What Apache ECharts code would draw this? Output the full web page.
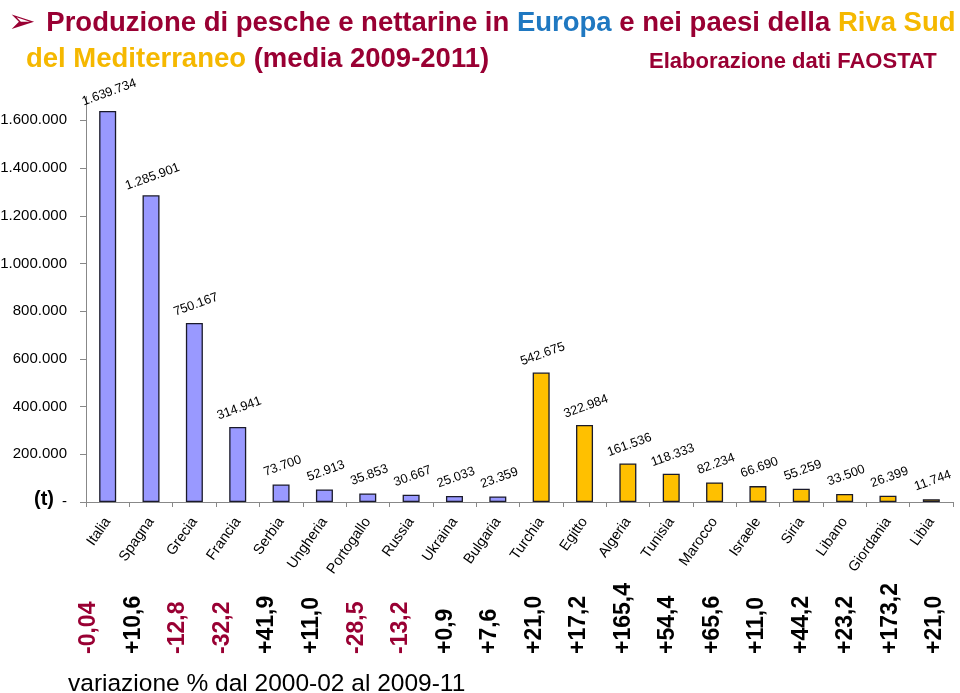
<!DOCTYPE html>
<html>
<head>
<meta charset="utf-8">
<script src="https://cdn.jsdelivr.net/npm/echarts@6/dist/echarts.min.js"></script>
<style>
html,body{margin:0;padding:0;background:#fff;}
#chart{width:960px;height:693px;}
</style>
</head>
<body>
<div id="chart"></div>
<script>
const categories = ['Italia','Spagna','Grecia','Francia','Serbia','Ungheria','Portogallo','Russia','Ukraina','Bulgaria','Turchia','Egitto','Algeria','Tunisia','Marocco','Israele','Siria','Libano','Giordania','Libia'];
const production = [1639734,1285901,750167,314941,73700,52913,35853,30667,25033,23359,542675,322984,161536,118333,82234,66690,55259,33500,26399,11744];
const area = ['EU','EU','EU','EU','EU','EU','EU','EU','EU','EU','SUD','SUD','SUD','SUD','SUD','SUD','SUD','SUD','SUD','SUD'];
const variation = ['-0,04','+10,6','-12,8','-32,2','+41,9','+11,0','-28,5','-13,2','+0,9','+7,6','+21,0','+17,2','+165,4','+54,4','+65,6','+11,0','+44,2','+23,2','+173,2','+21,0'];
const yTicks = [0,200000,400000,600000,800000,1000000,1200000,1400000,1600000];

const FONT = '"Liberation Sans", Arial, sans-serif';
const RED = '#990033';
const areaColor = {EU:'#9999ff', SUD:'#ffc000'};

function fmt(n){ return String(n).replace(/\B(?=(\d{3})+(?!\d))/g,'.'); }

const chart = echarts.init(document.getElementById('chart'));
chart.setOption({
  backgroundColor:'#fff',
  animation:false,
  title:[
    {left:3, top:2, text:'{a|➢}{r| Produzione di pesche e nettarine in }{b|Europa}{r| e nei paesi della }{g|Riva Sud}',
     textStyle:{rich:{
       a:{fontFamily:'DejaVu Sans', fontSize:33, color:RED, padding:[0,3,0,0]},
       r:{fontFamily:FONT, fontSize:27.5, fontWeight:'bold', color:RED},
       b:{fontFamily:FONT, fontSize:27.5, fontWeight:'bold', color:'#1f78c1'},
       g:{fontFamily:FONT, fontSize:27.5, fontWeight:'bold', color:'#f5b800'}}}},
    {left:21, top:40, text:'{g|del Mediterraneo }{r|(media 2009-2011)}',
     textStyle:{rich:{
       r:{fontFamily:FONT, fontSize:27.5, fontWeight:'bold', color:RED},
       g:{fontFamily:FONT, fontSize:27.5, fontWeight:'bold', color:'#f5b800'}}}},
    {left:644, top:46, text:'Elaborazione dati FAOSTAT',
     textStyle:{fontFamily:FONT, fontSize:22, fontWeight:'bold', color:RED}},
    {left:29, top:484, text:'(t)',
     textStyle:{fontFamily:FONT, fontSize:20, fontWeight:'bold', color:'#000'}},
    {left:63, top:667, text:'variazione % dal 2000-02 al 2009-11',
     textStyle:{fontFamily:FONT, fontSize:24.5, fontWeight:'normal', color:'#000'}}
  ],
  grid:[
    {left:86, right:7, top:96.5, bottom:191, outerBoundsMode:'none'},
    {left:66.75, right:2.75, bottom:39, height:10, outerBoundsMode:'none'}
  ],
  xAxis:[
    {type:'category', gridIndex:0, data:categories,
     axisLine:{lineStyle:{color:'#888', width:1}},
     axisTick:{show:true, length:5, lineStyle:{color:'#888'}},
     axisLabel:{interval:0, rotate:55, margin:17, fontFamily:FONT, fontSize:14.5, color:'#000'}},
    {type:'category', gridIndex:1, data:variation,
     axisLine:{show:false}, axisTick:{show:false},
     axisLabel:{interval:0, rotate:90, align:'left', margin:0, fontFamily:FONT, fontSize:23, fontWeight:'bold',
       color:function(v){ return v.charAt(0)==='-' ? RED : '#000'; }}}
  ],
  yAxis:[
    {type:'value', gridIndex:0, min:0, max:1700000, interval:200000,
     splitLine:{show:false},
     axisLine:{show:true, lineStyle:{color:'#888', width:1}},
     axisTick:{show:true, inside:false, length:6, lineStyle:{color:'#888'}, customValues:yTicks},
     axisLabel:{margin:19, fontFamily:FONT, fontSize:15, color:'#000', customValues:yTicks,
       formatter:function(v){ return v===0 ? '-' : fmt(v); }}},
    {type:'value', gridIndex:1, show:false}
  ],
  series:[{
    type:'bar', xAxisIndex:0, yAxisIndex:0, barWidth:17,
    data: production.map(function(v,i){ return {value:v, itemStyle:{color:areaColor[area[i]]}}; }),
    itemStyle:{borderColor:'#1a1a2a', borderWidth:1.3},
    label:{show:true, position:'top', distance:11, offset:[4,0], rotate:20, fontFamily:FONT, fontSize:12.8, color:'#000',
      formatter:function(p){ return fmt(p.value); }}
  }]
});
</script>
</body>
</html>
